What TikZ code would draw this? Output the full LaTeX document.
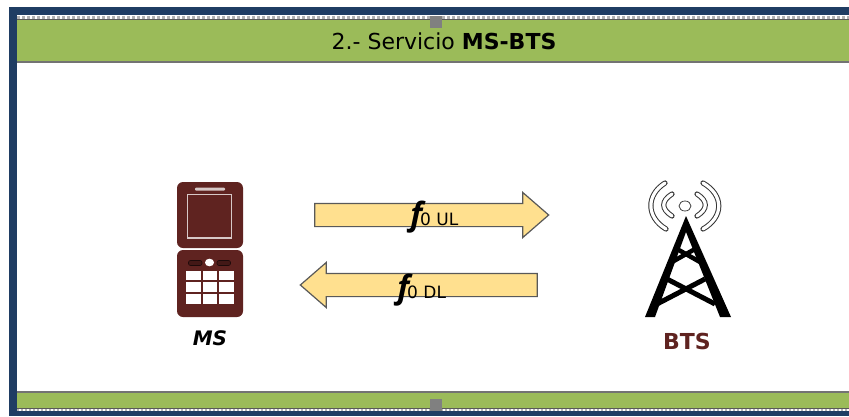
\documentclass[tikz,border=0pt]{standalone}
\usepackage{fontspec}
\setmainfont{DejaVu Sans}
\newfontfamily\freqfont{Open Sans}
\usetikzlibrary{shapes.arrows}
\definecolor{navyband}{HTML}{1F3D63}
\definecolor{greenband}{HTML}{9BBB59}
\definecolor{maroon}{HTML}{5F2320}
\definecolor{arrowfill}{HTML}{FFE08F}
\definecolor{handlegray}{HTML}{808080}
\begin{document}
\begin{tikzpicture}[x=1pt,y=-1pt,semithick,
  handle/.style={fill=handlegray,draw=none},
  bigarrow/.style={single arrow,draw=black!65,line width=1.2pt,fill=arrowfill,inner xsep=0pt,inner ysep=11pt,
    text height=0pt,text depth=0pt,text width=0pt,single arrow head extend=11pt,single arrow tip angle=82,anchor=center},
  wave/.style={draw=black!80,line width=1pt,double=white,double distance=3.2pt,line cap=round}]
\useasboundingbox (0,0) rectangle (849,416);
\fill[navyband](9,7)rectangle(849,416);
\fill[white](17,15)rectangle(849,411);
\draw[black!30,dotted,line width=3pt](17,17)--(849,17);
\fill[greenband](17,19)rectangle(849,62);
\draw[black!65,line width=1.2pt](17,19.5)--(849,19.5);
\draw[black!55,line width=2pt](17,62)--(849,62);
\fill[greenband](17,392)rectangle(849,408);
\draw[black!55,line width=2pt](17,392)--(849,392);
\draw[black!65,line width=1pt](17,408.5)--(849,408.5);
\draw[black!30,dotted,line width=2pt](17,410)--(849,410);
\fill[handle](430,16)rectangle(442,28);
\fill[handle](430,399)rectangle(442,411);
\node[font=\fontsize{22}{24}\selectfont] (title) at (444,41) {2.- Servicio \textbf{MS-BTS}};
%arrows
\node[bigarrow,minimum height=234pt] (fUL) at (425,215) {};
\node[bigarrow,minimum height=237pt,shape border rotate=180] (fDL) at (425.5,285) {};
\node[anchor=base west,inner sep=0pt] (lblUL) at (410,225) {\fontsize{32}{33}\selectfont\freqfont\bfseries\itshape f\fontsize{17}{17}\selectfont\rmfamily\mdseries\upshape\kern-2pt 0 UL};
\node[anchor=base west,inner sep=0pt] (lblDL) at (397,298) {\fontsize{32}{33}\selectfont\freqfont\bfseries\itshape f\fontsize{17}{17}\selectfont\rmfamily\mdseries\upshape\kern-2pt 0 DL};
%phone
\fill[maroon,rounded corners=6pt](177,182)rectangle(243,248);
\fill[maroon,rounded corners=6pt](177,250)rectangle(243,317);
\draw[white!75!maroon,line width=1.2pt](187.5,194.5)rectangle(231.5,238);
\fill[white!75!maroon,rounded corners=1pt](195,187.5)rectangle(225,190.5);
\foreach \x in {186,202.5,219}
  \foreach \y in {270.5,282,294}
    \fill[white](\x,\y)rectangle(\x+14.5,\y+9.5);
\draw[black!70!maroon,fill=maroon!70!black,rounded corners=2pt](188.5,260.5)rectangle(202,265.5);
\draw[black!70!maroon,fill=maroon!70!black,rounded corners=2pt](217,260.5)rectangle(230.5,265.5);
\fill[white](209.5,262.5)ellipse(4.5 and 3.8);
\node[font=\fontsize{20}{24}\selectfont\bfseries\itshape] (ms) at (210,338) {MS};
%tower
\fill[black](686,216)--(645,317)--(655,317)--(686,232)--(720,317)--(731,317)--cycle;
\draw[black,line width=5pt](667,279)--(715,304)(705,279)--(657,304);
\draw[black,line width=4.5pt](677,249)--(700,262)(695,249)--(672,262);
\draw[wave](665,183)..controls (646,195) and (646,217) .. (666,229);
\draw[wave](703,183)..controls (724,195) and (724,217) .. (703,229);
\draw[wave](672,194)..controls (661,201) and (661,209) .. (672,216);
\draw[wave](697,194)..controls (708,201) and (708,209) .. (697,216);
\draw[black!75,fill=white,line width=.8pt](685,206)ellipse(6 and 5);
\node[font=\fontsize{22}{28}\selectfont\bfseries,text=maroon] (bts) at (687,341) {BTS};
\end{tikzpicture}
\end{document}
